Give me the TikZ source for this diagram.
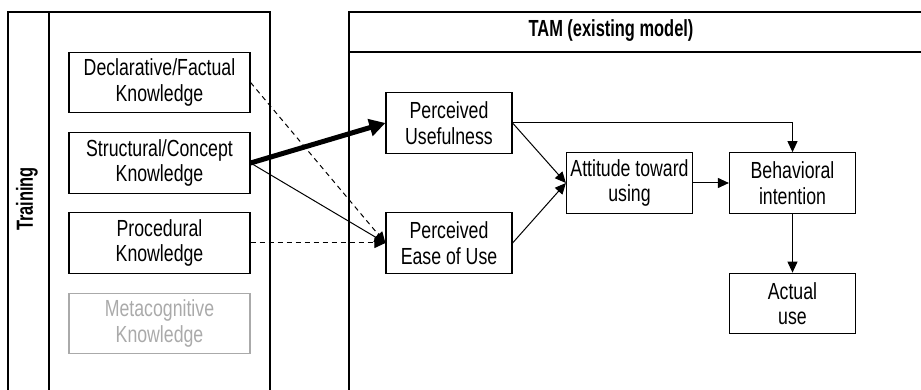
\documentclass[tikz,border=0pt]{standalone}
\usepackage{fontspec}
\setmainfont{Liberation Sans}[FakeStretch=0.76, BoldFeatures={FakeStretch=0.705}]
\usetikzlibrary{arrows.meta}
\definecolor{lightgr}{RGB}{170,170,170}
\begin{document}
\begin{tikzpicture}[x=1pt,y=-1pt,
  box/.style={draw, line width=1.2pt, minimum width=#1, minimum height=60.5pt, inner sep=0pt, align=center,
    font=\fontsize{23.3}{25.5}\selectfont},
  box/.default=126pt,
  frame/.style={line width=1.2pt},
  conn/.style={line width=1pt, -{Triangle[length=11pt,width=10pt]}},
  dconn/.style={conn, dash pattern=on 5pt off 4pt},
  bigconn/.style={line width=5pt, -{Triangle[length=16pt,width=17pt]}}
]
\useasboundingbox (0,0) rectangle (921,390);
% frames
\draw[frame] (8,390) -- (8,12) -- (270,12) -- (270,390);
\draw[frame] (49,12) -- (49,390);
\draw[frame] (349,390) -- (349,12) -- (921,12);
\draw[frame] (349,52) -- (921,52);
\node[font=\fontsize{23.3}{26}\selectfont\bfseries, rotate=90] (train) at (27,199) {Training};
\node[font=\fontsize{23.3}{26}\selectfont\bfseries] (tam) at (611,31) {TAM (existing model)};
% left boxes
\node[box=181pt] (decl) at (159.5,82.5) {Declarative/Factual\\Knowledge};
\node[box=181pt] (struc) at (159.5,163) {Structural/Concept\\Knowledge};
\node[box=181pt] (proc) at (159.5,243) {Procedural\\Knowledge};
\node[box=181pt, draw=lightgr, text=lightgr] (meta) at (159.5,323.5) {Metacognitive\\Knowledge};
% TAM boxes
\node[box] (pu) at (449,123) {Perceived\\Usefulness};
\node[box] (peou) at (449,243) {Perceived\\Ease of Use};
\node[box] (att) at (629.5,183) {Attitude toward\\using};
\node[box] (bi) at (792.5,183) {Behavioral\\intention};
\node[box] (au) at (792.5,303.5) {Actual\\use};
% connectors
\draw[dconn] (decl.east) -- (peou.west);
\draw[dconn] (proc.east) -- (peou.west);
\draw[conn] (struc.east) -- (peou.west);
\draw[bigconn] (struc.east) -- (pu.west);
\draw[conn] (pu.east) -- (att.west);
\draw[conn] (peou.east) -- (att.west);
\draw[conn] (pu.east) -| (bi.north);
\draw[conn] (att.east) -- (bi.west);
\draw[conn] (bi.south) -- (au.north);
\end{tikzpicture}
\end{document}
